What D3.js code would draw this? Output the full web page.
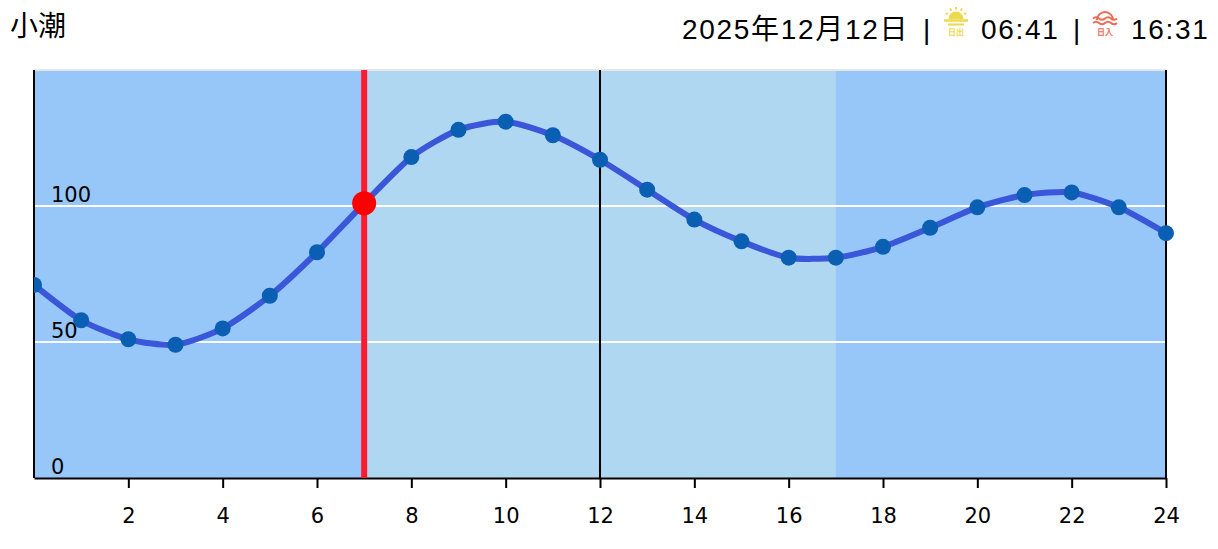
<!DOCTYPE html>
<html>
<head>
<meta charset="utf-8">
<script src="https://cdnjs.cloudflare.com/ajax/libs/d3/7.8.5/d3.min.js"></script>
<style>
  html, body { margin: 0; padding: 0; background: #fff; }
  svg { display: block; }
  .head { font-family: "Liberation Sans", "Noto Sans CJK JP", sans-serif; font-size: 28px; fill: #000; }
  .hr { letter-spacing: 1.7px; }
  .num { font-family: "DejaVu Sans", sans-serif; font-size: 21px; fill: #000; }
</style>
</head>
<body>
<svg id="chart" width="1218" height="549"></svg>
<script>
// Data
const hours = d3.range(0, 25)
const tide = [71, 58, 51, 49, 55, 67, 83, 101, 118, 128, 131, 126, 117, 106, 95, 87, 81, 81, 85, 92, 99.5, 104, 105, 99.5, 90]
const xTicks = [2, 4, 6, 8, 10, 12, 14, 16, 18, 20, 22, 24]
const yGrid = [50, 100]
const yLabels = [0, 50, 100]
const dayBand = [7, 17]
const nowHour = 7
const nowLevel = 101

const title = '小潮'
const dateText = '2025年12月12日'
const sunrise = '06:41'
const sunset = '16:31'

const svg = d3.select('#chart')
const margin = { top: 70, right: 52, bottom: 71, left: 34 }
const width = 1218 - margin.left - margin.right
const height = 549 - margin.top - margin.bottom

// Scale
const x = d3.scaleLinear().domain([0, 24]).range([margin.left, margin.left + width])
const y = d3.scaleLinear().domain([0, 150]).range([margin.top + height, margin.top])

// Left edge clips the first point
svg.append('clipPath').attr('id', 'plot-clip').append('rect')
    .attr('x', x(0)).attr('y', 0).attr('width', 1218 - x(0)).attr('height', 549)

// Bands
svg.append('rect').attr('x', x(0)).attr('y', y(150))
    .attr('width', x(24) - x(0)).attr('height', y(0) - y(150)).attr('fill', '#97c7f8')
svg.append('rect').attr('x', x(dayBand[0])).attr('y', y(150))
    .attr('width', x(dayBand[1]) - x(dayBand[0])).attr('height', y(0) - y(150)).attr('fill', '#b0d7f1')

// Grid
svg.append('line').attr('x1', x(0)).attr('x2', x(24)).attr('y1', y(150)).attr('y2', y(150))
    .attr('stroke', '#e6e6e6').attr('stroke-width', 2)
svg.selectAll('line.grid').data(yGrid).enter().append('line')
    .attr('class', 'grid')
    .attr('x1', x(0)).attr('x2', x(24))
    .attr('y1', d => y(d)).attr('y2', d => y(d))
    .attr('stroke', '#fff').attr('stroke-width', 2)

// Axis
const axis = d3.axisBottom(x).tickValues(xTicks).tickSize(10).tickSizeOuter(0).tickPadding(20).tickFormat(d3.format('d'))
const axisG = svg.append('g').attr('transform', `translate(0, ${y(0)})`).call(axis)
axisG.select('.domain').attr('stroke', '#000').attr('stroke-width', 2)
axisG.selectAll('.tick line').attr('stroke', '#000').attr('stroke-width', 2)
axisG.selectAll('.tick text').attr('class', 'num').attr('font-family', null).attr('font-size', null)

svg.selectAll('line.vert').data([0, 12, 24]).enter().append('line')
    .attr('class', 'vert')
    .attr('x1', d => x(d)).attr('x2', d => x(d))
    .attr('y1', y(150)).attr('y2', y(0))
    .attr('stroke', '#000').attr('stroke-width', 2)

svg.selectAll('text.ylab').data(yLabels).enter().append('text')
    .attr('class', 'ylab num')
    .attr('x', 51)
    .attr('y', d => y(d) - 4)
    .text(d => d)

// Now marker
svg.append('line').attr('x1', x(nowHour)).attr('x2', x(nowHour))
    .attr('y1', y(150)).attr('y2', y(0))
    .attr('stroke', '#ff1a2d').attr('stroke-width', 6)

// Tide line
const series = svg.append('g').attr('clip-path', 'url(#plot-clip)')
const line = d3.line().x((_, i) => x(hours[i])).y(d => y(d)).curve(d3.curveCardinal.tension(0.3))
series.append('path').attr('d', line(tide))
    .attr('fill', 'none').attr('stroke', '#3a56d9').attr('stroke-width', 6)

series.selectAll('circle.pt').data(tide).enter().append('circle')
    .attr('class', 'pt')
    .attr('cx', (_, i) => x(hours[i]))
    .attr('cy', d => y(d))
    .attr('r', 8)
    .attr('fill', '#0b5fb3')
    .attr('visibility', (_, i) => hours[i] === nowHour ? 'hidden' : null)

svg.append('circle').attr('cx', x(nowHour)).attr('cy', y(nowLevel)).attr('r', 12).attr('fill', '#ff0000')

// Header
svg.append('text').attr('class', 'head').attr('x', 10).attr('y', 36).text(title)
const headRight = [
    { t: dateText, x: 682 }, { t: '|', x: 923 }, { t: sunrise, x: 981 }, { t: '|', x: 1073 }, { t: sunset, x: 1131 }
]
svg.selectAll('text.hr').data(headRight).enter().append('text')
    .attr('class', 'hr head')
    .attr('x', d => d.x).attr('y', 39).text(d => d.t)

// Sunrise icon
const sun = svg.append('g').attr('transform', 'translate(956, 0)').attr('fill', '#ecd94e').attr('stroke', '#ecd94e')
sun.append('path').attr('d', d3.arc()({ innerRadius: 0, outerRadius: 7.5, startAngle: -Math.PI / 2, endAngle: Math.PI / 2 }))
    .attr('transform', 'translate(0, 19)').attr('stroke', 'none')
d3.range(-60, 61, 30).forEach(a => {
    const r = a * Math.PI / 180
    sun.append('line').attr('stroke-width', 2)
        .attr('x1', 9.5 * Math.sin(r)).attr('y1', 19 - 9.5 * Math.cos(r))
        .attr('x2', 12 * Math.sin(r)).attr('y2', 19 - 12 * Math.cos(r))
})
sun.append('line').attr('x1', -12).attr('x2', 12).attr('y1', 20.5).attr('y2', 20.5).attr('stroke-width', 2.5)
sun.append('line').attr('x1', -8).attr('x2', 8).attr('y1', 24.5).attr('y2', 24.5).attr('stroke-width', 2)
sun.append('text').attr('text-anchor', 'middle').attr('y', 35).attr('stroke', '#ecd94e').attr('stroke-width', 0.3)
    .attr('font-family', '"Noto Sans CJK JP"').attr('font-size', 8).text('日出')

// Sunset icon
const set = svg.append('g').attr('transform', 'translate(1105, 0)').attr('fill', 'none').attr('stroke', '#ee6a55')
set.append('path').attr('d', d3.arc()({ innerRadius: 7, outerRadius: 9, startAngle: -Math.PI / 2, endAngle: Math.PI / 2 }))
    .attr('transform', 'translate(0, 20)').attr('fill', '#ee6a55').attr('stroke', 'none')
;[18.5, 23].forEach(wy => {
    set.append('path').attr('stroke-width', 2)
        .attr('d', `M-12,${wy} q3,-2.5 6,0 t6,0 t6,0 t6,0`)
})
set.append('text').attr('text-anchor', 'middle').attr('y', 35).attr('stroke', '#ee6a55').attr('stroke-width', 0.3).attr('fill', '#ee6a55')
    .attr('font-family', '"Noto Sans CJK JP"').attr('font-size', 8).text('日入')
</script>
</body>
</html>
